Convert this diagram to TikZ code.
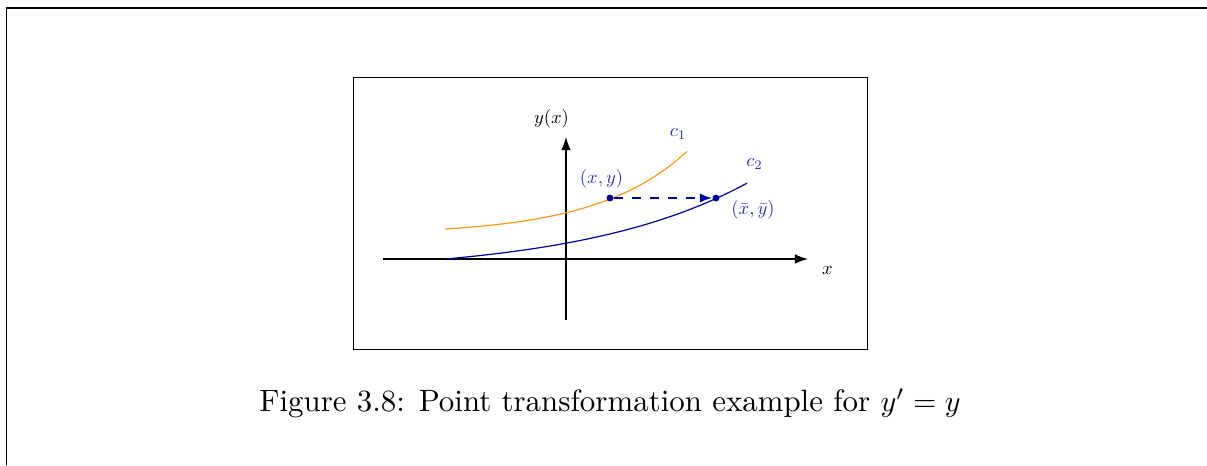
\documentclass[tikz,border=0pt]{standalone}
\usepackage{graphicx}
\usetikzlibrary{arrows.meta}
\definecolor{curveorange}{RGB}{255,150,20}
\definecolor{curveblue}{RGB}{0,0,160}
\definecolor{labelblue}{RGB}{45,45,175}
\newcommand{\smalllbl}[1]{\scalebox{0.62}{\normalsize #1}}
\begin{document}
\begin{tikzpicture}[x=0.33333pt,y=-0.33333pt,
  lbl/.style={inner sep=0pt},
  bluelbl/.style={lbl,text=labelblue},
  dot/.style={circle,fill=curveblue,inner sep=0pt,minimum size=2.3pt},
  axis/.style={line width=0.4pt,-{Latex[length=4.4pt,width=3.2pt]}},
  frameline/.style={line width=0.6pt}]
\useasboundingbox (0,0) rectangle (1207,465);
% page frame (top and left edges)
\draw[frameline] (6.5,465) -- (6.5,8) -- (1207,8);
% inner box
\draw[line width=0.4pt] (353.5,77.5) rectangle (867.5,349.5);
% axes
\coordinate (xstart) at (383,259);
\coordinate (xend) at (808,259);
\coordinate (ystart) at (566,320);
\coordinate (yend) at (566,137);
\draw[axis] (xstart) -- (xend);
\draw[axis] (ystart) -- (yend);
\node[lbl] (ylab) at (551.5,119) {\smalllbl{$y(x)$}};
\node[lbl] (xlab) at (827.5,270) {\smalllbl{$x$}};
% curves
\draw[curveorange,line width=0.4pt] plot[domain=445:687,samples=80,smooth]
  (\x,{229-5.82*(exp(0.011*(\x-445))-1)});
\draw[curveblue,line width=0.4pt] plot[domain=445:747,samples=80,smooth]
  (\x,{259-14.83*(exp(0.006*(\x-445))-1)});
\node[bluelbl] (c1) at (678,134) {\smalllbl{$c_1$}};
\node[bluelbl] (c2) at (754.5,164) {\smalllbl{$c_2$}};
% points
\node[dot] (p1) at (610,198) {};
\node[dot] (p2) at (716,198) {};
\draw[curveblue,dashed,line width=0.45pt,-{Latex[length=4pt,width=3pt]}] (p1) -- (p2);
\node[bluelbl] (p1lab) at (601.5,179) {\smalllbl{$(x,y)$}};
\node[bluelbl] (p2lab) at (753,209.5) {\smalllbl{$(\bar{x},\bar{y})$}};
% caption
\node[anchor=base,inner sep=0pt,font=\fontsize{10.3}{12}\selectfont] (cap) at (610,411.3)
  {Figure 3.8: Point transformation example for $y'=y$};
\end{tikzpicture}
\end{document}
